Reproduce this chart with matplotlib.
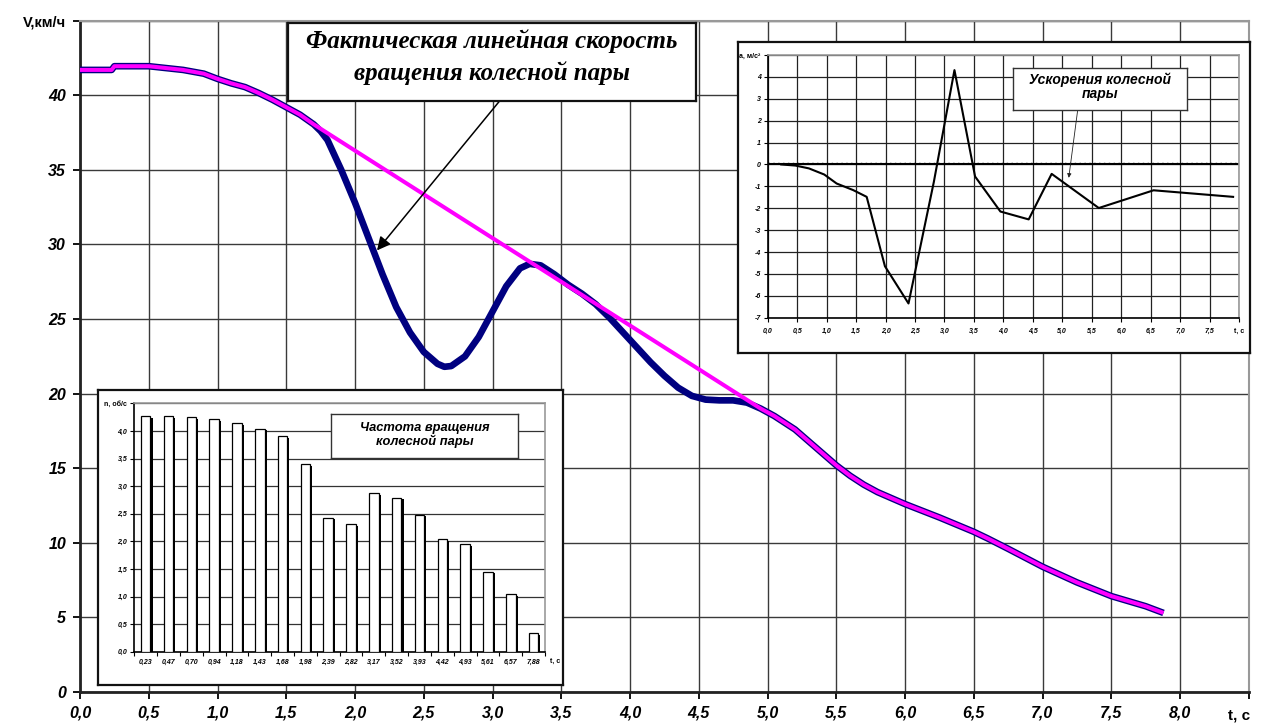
import matplotlib
matplotlib.use('Agg')
import matplotlib.pyplot as plt
import numpy as np

# ---------------- data ----------------
# actual linear speed of the wheel pair (navy curve)
t_actual = [0.00, 0.23, 0.25, 0.50, 0.75, 0.90, 1.00, 1.10, 1.20, 1.30, 1.40, 1.50, 1.60,
            1.70, 1.75, 1.80, 1.90, 2.00, 2.10, 2.20, 2.30, 2.40, 2.50, 2.60, 2.65, 2.70,
            2.80, 2.90, 3.00, 3.10, 3.20, 3.27, 3.35, 3.45, 3.55, 3.65, 3.75, 3.85, 3.95,
            4.05, 4.15, 4.25, 4.35, 4.45, 4.55, 4.65, 4.75, 4.85, 4.95, 5.05, 5.20, 5.35,
            5.50, 5.60, 5.70, 5.80, 6.00, 6.25, 6.50, 6.60, 6.75, 7.00, 7.25, 7.50, 7.75, 7.88]
v_actual = [41.70, 41.70, 41.95, 41.95, 41.70, 41.45, 41.10, 40.80, 40.55, 40.15, 39.70, 39.20, 38.70,
            38.05, 37.60, 37.00, 35.00, 32.80, 30.40, 28.00, 25.80, 24.10, 22.80, 22.00, 21.80, 21.85,
            22.50, 23.80, 25.50, 27.20, 28.40, 28.70, 28.60, 28.00, 27.30, 26.70, 26.00, 25.10, 24.10,
            23.10, 22.10, 21.20, 20.40, 19.85, 19.60, 19.55, 19.55, 19.40, 19.00, 18.50, 17.60, 16.40,
            15.20, 14.50, 13.90, 13.40, 12.60, 11.70, 10.74, 10.30, 9.60, 8.40, 7.35, 6.43, 5.75, 5.30]

# smoothed (expected) speed (magenta line)
t_smooth = [0.00, 0.23, 0.25, 0.50, 0.75, 0.90, 1.00, 1.10, 1.20, 1.30, 1.40, 1.50, 1.60, 1.70,
            4.95, 5.05, 5.20, 5.35, 5.50, 5.60, 5.70, 5.80, 6.00, 6.25, 6.50, 6.60, 6.75, 7.00,
            7.25, 7.50, 7.75, 7.88]
v_smooth = [41.70, 41.70, 41.95, 41.95, 41.70, 41.45, 41.10, 40.80, 40.55, 40.15, 39.70, 39.20, 38.70, 38.05,
            19.00, 18.50, 17.60, 16.40, 15.20, 14.50, 13.90, 13.40, 12.60, 11.70, 10.74, 10.30, 9.60, 8.40,
            7.35, 6.43, 5.75, 5.30]

# rotation frequency (bar inset)
bar_labels = ['0,23', '0,47', '0,70', '0,94', '1,18', '1,43', '1,68', '1,98', '2,39', '2,82',
              '3,17', '3,52', '3,93', '4,42', '4,93', '5,61', '6,57', '7,88']
bar_values = [4.27, 4.27, 4.25, 4.21, 4.14, 4.04, 3.90, 3.40, 2.43, 2.31,
              2.87, 2.79, 2.48, 2.04, 1.95, 1.45, 1.04, 0.33]

# acceleration (line inset)
t_acc = [0.23, 0.47, 0.70, 0.96, 1.17, 1.45, 1.68, 1.99, 2.39, 2.82, 3.17, 3.52, 3.95, 4.43,
         4.82, 5.62, 6.55, 7.90]
a_acc = [0.00, -0.05, -0.18, -0.46, -0.87, -1.17, -1.48, -4.65, -6.35, -0.80, 4.31, -0.55,
         -2.15, -2.51, -0.43, -1.99, -1.18, -1.48]

main_title = 'Фактическая линейная скорость\nвращения колесной пары'
acc_title = 'Ускорения колесной\nпары'
bar_title = 'Частота вращения\nколесной пары'

# ---------------- figure ----------------
W, H = 1266, 724
fig = plt.figure(figsize=(W / 100, H / 100), dpi=100)
SANS = ['Liberation Sans', 'DejaVu Sans']
SERIF = ['Liberation Serif', 'DejaVu Serif']


def px_axes(l, t, r, b):
    return fig.add_axes([l / W, 1 - b / H, (r - l) / W, (b - t) / H])


def comma(v, fmt='{:.1f}'):
    return fmt.format(v).replace('.', ',')


GRID = '#3a3a3a'

# ---- main axes ----
ax = px_axes(80, 20.7, 1248.75, 692)
ax.set_xlim(0, 8.5)
ax.set_ylim(0, 45)
xt = np.arange(0, 8.51, 0.5)
yt = np.arange(0, 45.1, 5)
ax.set_xticks(xt)
ax.set_yticks(yt)
ax.set_xticklabels([comma(v) for v in xt[:-1]] + [''], fontsize=11.5, fontweight='bold',
                   fontstyle='italic', family=SANS)
ax.set_yticklabels([str(int(v)) for v in yt[:-1]] + ['V,км/ч'], fontsize=11.5, fontweight='bold',
                   fontstyle='italic', family=SANS)
ylab = ax.get_yticklabels()[-1]
ylab.set_fontstyle('normal')
ylab.set_fontsize(10.5)
ax.text(8.43, -1.6, 't, c', fontsize=11, fontweight='bold', family=SANS, ha='center', va='center',
        transform=ax.transData, clip_on=False)
ax.tick_params(axis='x', direction='out', length=5, width=1.3, pad=5)
ax.tick_params(axis='y', direction='out', length=5, width=1.3, pad=5)
ax.grid(True, color=GRID, lw=1.0)
ax.set_axisbelow(True)
for s in ['left', 'bottom']:
    ax.spines[s].set_linewidth(2)
    ax.spines[s].set_color('#222222')
for s in ['top', 'right']:
    ax.spines[s].set_linewidth(1.5)
    ax.spines[s].set_color('#999999')

ax.plot(t_actual, v_actual, color='#000080', lw=4.8, solid_capstyle='butt', zorder=3)
ax.plot(t_smooth, v_smooth, color='#FF00FF', lw=2.9, solid_capstyle='butt', zorder=4)

ax.annotate('', xy=(2.16, 29.6), xytext=(3.05, 39.6),
            arrowprops=dict(arrowstyle='-|>', color='black', lw=1.1, mutation_scale=20,
                            shrinkA=0, shrinkB=0), zorder=5)

# ---- main title box ----
tb = px_axes(288, 22.7, 696, 100.7)
tb.set_xticks([]); tb.set_yticks([])
for s in tb.spines.values():
    s.set_linewidth(1.6)
    s.set_color('#111111')
tb.text(0.5, 0.56, main_title, ha='center', va='center', fontsize=18, fontweight='bold',
        fontstyle='italic', family=SERIF, linespacing=1.4, transform=tb.transAxes)

# ---- bar inset ----
bbox_ax = px_axes(98, 390, 563, 685)
bbox_ax.set_xticks([]); bbox_ax.set_yticks([])
for s in bbox_ax.spines.values():
    s.set_linewidth(1.6)
    s.set_color('#111111')

bax = px_axes(134.3, 403.3, 545, 651.7)
xb = np.arange(len(bar_values))
bax.set_xlim(-0.5, len(bar_values) - 0.5)
bax.set_ylim(0, 4.5)
bax.bar(xb + 0.09, np.array(bar_values) - 0.03, width=0.42, color='black', zorder=2)
bax.bar(xb, bar_values, width=0.42, color='white', edgecolor='black', lw=0.9, zorder=3)
ybt = np.arange(0, 4.51, 0.5)
bax.set_yticks(ybt)
bax.set_yticklabels([comma(v) for v in ybt[:-1]] + ['n, об/с'], fontsize=5, fontweight='bold',
                    fontstyle='italic', family=SANS)
bax.get_yticklabels()[-1].set_fontstyle('normal')
bax.set_xticks(xb)
bax.set_xticklabels(bar_labels, fontsize=5, fontweight='bold', fontstyle='italic', family=SANS)
bax.set_xticks(np.arange(-0.5, len(bar_values), 1.0), minor=True)
bax.tick_params(axis='x', which='major', length=0, pad=5)
bax.tick_params(axis='x', which='minor', length=3, width=0.8, direction='out')
bax.tick_params(axis='y', length=3, width=0.8, direction='out', pad=2)
bax.text(len(bar_values) - 0.5 + 0.45, -0.17, 't, c', fontsize=5, fontweight='bold',
         family=SANS, ha='center', va='center', clip_on=False)
bax.grid(True, axis='y', color='#333333', lw=0.9)
bax.set_axisbelow(True)
bax.spines['left'].set_linewidth(1.2)
bax.spines['bottom'].set_linewidth(1.2)
for s in ['top', 'right']:
    bax.spines[s].set_color('#999999')
    bax.spines[s].set_linewidth(1.2)

btb = px_axes(331, 414, 518, 458)
btb.set_xticks([]); btb.set_yticks([])
for s in btb.spines.values():
    s.set_linewidth(1.0)
    s.set_color('#333333')
btb.text(0.5, 0.52, bar_title, ha='center', va='center', fontsize=9.3, fontweight='bold',
         fontstyle='italic', family=SANS, linespacing=1.1, transform=btb.transAxes)

# ---- acceleration inset ----
abox = px_axes(738, 41.7, 1250, 353)
abox.set_xticks([]); abox.set_yticks([])
for s in abox.spines.values():
    s.set_linewidth(1.6)
    s.set_color('#111111')

aax = px_axes(767.7, 55, 1239, 317.7)
aax.set_xlim(0, 8)
aax.set_ylim(-7, 5)
xat = np.arange(0, 8.01, 0.5)
yat = np.arange(-7, 5.1, 1)
aax.set_xticks(xat)
aax.set_xticklabels([comma(v) for v in xat[:-1]] + ['t, c'], fontsize=5, fontweight='bold',
                    fontstyle='italic', family=SANS)
aax.get_xticklabels()[-1].set_fontstyle('normal')
aax.set_yticks(yat)
aax.set_yticklabels([str(int(v)) for v in yat[:-1]] + ['a, м/с²'], fontsize=5, fontweight='bold',
                    fontstyle='italic', family=SANS)
aax.get_yticklabels()[-1].set_fontstyle('normal')
aax.tick_params(axis='both', length=3, width=0.8, direction='out', pad=4)
aax.tick_params(axis='y', pad=2)
aax.grid(True, color='#222222', lw=0.9)
aax.set_axisbelow(True)
aax.spines['left'].set_linewidth(1.2)
aax.spines['bottom'].set_linewidth(1.2)
for s in ['top', 'right']:
    aax.spines[s].set_color('#999999')
    aax.spines[s].set_linewidth(1.2)
aax.axhline(0, color='black', lw=1.5, zorder=2)
aax.plot([0, 8], [0.08, 0.08], color='black', lw=1.0, ls=(0, (1, 2.5)), zorder=2)
aax.plot(t_acc, a_acc, color='black', lw=1.5, zorder=3)
aax.annotate('', xy=(5.11, -0.61), xytext=(5.26, 2.45),
             arrowprops=dict(arrowstyle='-|>', color='#222222', lw=0.6, mutation_scale=6,
                             shrinkA=0, shrinkB=0), zorder=4)

atb = px_axes(1013, 68, 1187, 110)
atb.set_xticks([]); atb.set_yticks([])
for s in atb.spines.values():
    s.set_linewidth(1.0)
    s.set_color('#333333')
atb.text(0.5, 0.55, acc_title, ha='center', va='center', fontsize=10, fontweight='bold',
         fontstyle='italic', family=SANS, linespacing=1.05, transform=atb.transAxes)

fig.savefig('out.png', dpi=100)
